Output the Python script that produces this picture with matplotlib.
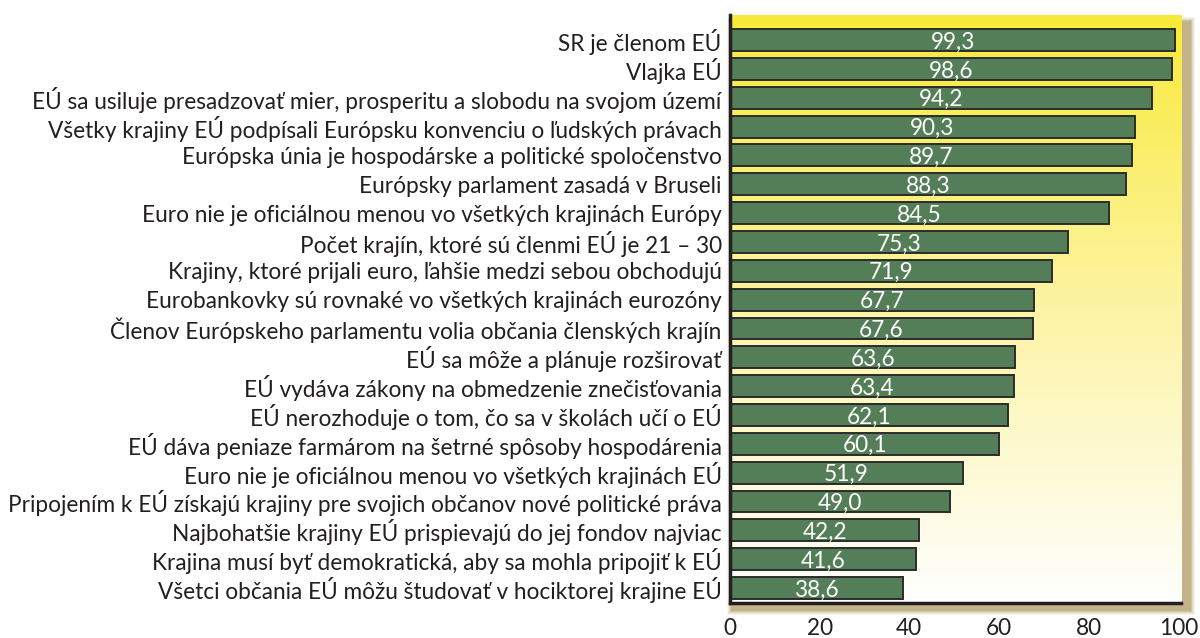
import numpy as np
import matplotlib.pyplot as plt
from matplotlib.patches import Rectangle

labels = [
    "SR je členom EÚ",
    "Vlajka EÚ",
    "EÚ sa usiluje presadzovať mier, prosperitu a slobodu na svojom území",
    "Všetky krajiny EÚ podpísali Európsku konvenciu o ľudských právach",
    "Európska únia je hospodárske a politické spoločenstvo",
    "Európsky parlament zasadá v Bruseli",
    "Euro nie je oficiálnou menou vo všetkých krajinách Európy",
    "Počet krajín, ktoré sú členmi EÚ je 21 – 30",
    "Krajiny, ktoré prijali euro, ľahšie medzi sebou obchodujú",
    "Eurobankovky sú rovnaké vo všetkých krajinách eurozóny",
    "Členov Európskeho parlamentu volia občania členských krajín",
    "EÚ sa môže a plánuje rozširovať",
    "EÚ vydáva zákony na obmedzenie znečisťovania",
    "EÚ nerozhoduje o tom, čo sa v školách učí o EÚ",
    "EÚ dáva peniaze farmárom na šetrné spôsoby hospodárenia",
    "Euro nie je oficiálnou menou vo všetkých krajinách EÚ",
    "Pripojením k EÚ získajú krajiny pre svojich občanov nové politické práva",
    "Najbohatšie krajiny EÚ prispievajú do jej fondov najviac",
    "Krajina musí byť demokratická, aby sa mohla pripojiť k EÚ",
    "Všetci občania EÚ môžu študovať v hociktorej krajine EÚ",
]
values = [99.3, 98.6, 94.2, 90.3, 89.7, 88.3, 84.5, 75.3, 71.9, 67.7,
          67.6, 63.6, 63.4, 62.1, 60.1, 51.9, 49.0, 42.2, 41.6, 38.6]
xticks = [0, 20, 40, 60, 80, 100]

plt.rcParams['font.family'] = ['Lato', 'DejaVu Sans']
txt = "#231f20"
fs = 16.3

fig = plt.figure(figsize=(12, 6.38), dpi=100)
ax = fig.add_axes([730 / 1200, 1 - 603 / 638, 451 / 1200, 588 / 638])
ax.set_zorder(2)

# drop shadow behind the plot area (figure pixels)
W, H = 1200, 638
x0, y0, w, h = 730, 638 - 603, 451, 588
for i, a in enumerate([0.10, 0.14, 0.2, 0.3, 0.45]):
    grow = 5 - i
    fig.patches.append(Rectangle(((x0 + 2 - grow) / W, (y0 - 7 - grow) / H),
                                 (w + 7 + 2 * grow) / W, (h + 2 * grow) / H,
                                 transform=fig.transFigure, color="#b09d68",
                                 alpha=a, lw=0, zorder=0))

# vertical yellow gradient
n = len(values)
ypos = np.arange(n)
ylo, yhi = n - 1 + 0.52, -0.87
ax.set_xlim(0, 100.6)
ax.set_ylim(ylo, yhi)
g = np.linspace(0, 1, 256)[:, None, None]
top = np.array([248, 234, 58]) / 255
mid = np.array([253, 244, 165]) / 255
bot = np.array([255, 255, 255]) / 255
col = np.where(g < 0.5, top + (mid - top) * (g / 0.5), mid + (bot - mid) * ((g - 0.5) / 0.5))
col = np.repeat(col, 2, axis=1)
ax.imshow(col, extent=[0, 100.6, ylo, yhi], origin="upper", aspect="auto", zorder=0)

ax.barh(ypos, values, height=0.76, color="#547e57", edgecolor="#2b2b2b",
        linewidth=1.4, zorder=2)
for y, v in zip(ypos, values):
    ax.text(v / 2, y + 0.07, f"{v:.1f}".replace(".", ","), ha="center", va="center",
            color="white", fontsize=fs, zorder=3)

ax.set_yticks(ypos)
ax.set_yticklabels(labels, fontsize=fs, color=txt)
ax.set_xticks(xticks)
ax.set_xticklabels([str(x) for x in xticks], fontsize=fs, color=txt)
ax.tick_params(axis="both", length=0)
ax.tick_params(axis="x", pad=11)
ax.tick_params(axis="y", pad=6)
for s in ["top", "right"]:
    ax.spines[s].set_visible(False)
for s in ["left", "bottom"]:
    ax.spines[s].set_linewidth(2.5)
    ax.spines[s].set_color("#231f20")
    ax.spines[s].set_zorder(4)

fig.savefig("out.png", dpi=100)
